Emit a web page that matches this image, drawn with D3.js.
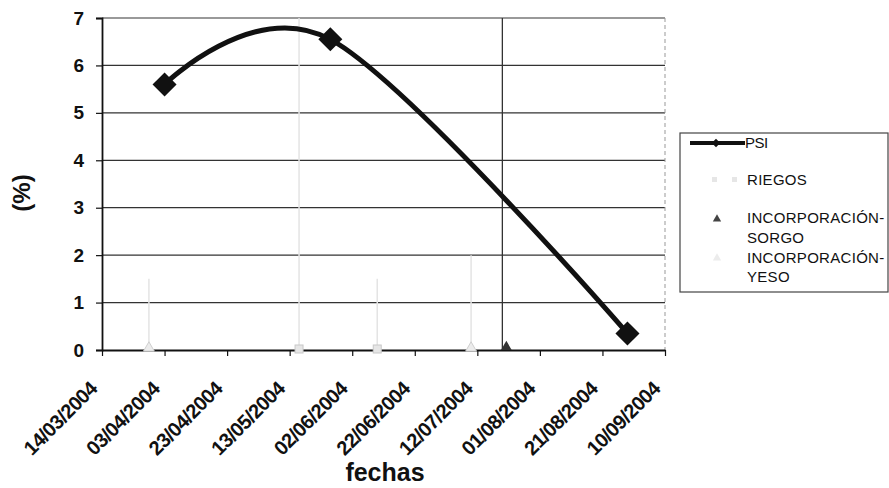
<!DOCTYPE html>
<html>
<head>
<meta charset="utf-8">
<script src="https://cdn.jsdelivr.net/npm/d3@7"></script>
<style>
  html, body { margin: 0; padding: 0; background: #fff; }
  svg { display: block; }
  text { font-family: "Liberation Sans", Arial, sans-serif; fill: #111; }
</style>
</head>
<body>
<svg id="chart" width="889" height="488"></svg>
<script>
// PSI (%) measured on three sampling dates
const psiDates = ["03/04/2004", "26/05/2004", "29/08/2004"];
const psiValues = [5.6, 6.55, 0.35];

// Management events, drawn on the zero line
const riegosDates = ["16/05/2004", "10/06/2004"];
const riegosValues = [0, 0];
const riegosBar = [7, 1.5];

const sorgoDates = ["20/07/2004"];
const sorgoValues = [0];
const sorgoBar = [7];

const yesoDates = ["29/03/2004", "10/07/2004"];
const yesoValues = [0, 0];
const yesoBar = [1.5, 2];

// Axis ticks
const xTickLabels = ["14/03/2004", "03/04/2004", "23/04/2004", "13/05/2004", "02/06/2004",
                     "22/06/2004", "12/07/2004", "01/08/2004", "21/08/2004", "10/09/2004"];
const yTickValues = [0, 1, 2, 3, 4, 5, 6, 7];

const legendLabels = [["PSI"], ["RIEGOS"], ["INCORPORACIÓN-", "SORGO"], ["INCORPORACIÓN-", "YESO"]];

const parse = d3.timeParse("%d/%m/%Y");
const svg = d3.select("#chart");

const plotLeft = 102, plotRight = 665, plotTop = 18, plotBottom = 350;

const x = d3.scaleTime()
  .domain([parse(xTickLabels[0]), parse(xTickLabels[xTickLabels.length - 1])])
  .range([plotLeft, plotRight]);
const y = d3.scaleLinear().domain([0, 7]).range([plotBottom, plotTop]);

// Horizontal gridlines
svg.append("g")
  .selectAll("line")
  .data(yTickValues.filter(v => v > 0))
  .join("line")
  .attr("x1", plotLeft).attr("x2", plotRight)
  .attr("y1", d => y(d)).attr("y2", d => y(d))
  .attr("stroke", d => d === 7 ? "#777" : "#333")
  .attr("stroke-width", 1.3);

// Right edge of plot area
svg.append("line")
  .attr("x1", plotRight).attr("x2", plotRight)
  .attr("y1", plotTop).attr("y2", plotBottom)
  .attr("stroke", "#999")
  .attr("stroke-width", 1)
  .attr("stroke-dasharray", "4,3");

// Vertical event bars
function eventBars(dates, heights, color, width) {
  svg.append("g")
    .selectAll("line")
    .data(dates.map((d, i) => ({ date: parse(d), h: heights[i] })))
    .join("line")
    .attr("x1", d => x(d.date)).attr("x2", d => x(d.date))
    .attr("y1", y(0)).attr("y2", d => y(d.h))
    .attr("stroke", color)
    .attr("stroke-width", width);
}
eventBars(riegosDates, riegosBar, "#e4e4e4", 1.5);
eventBars(yesoDates, yesoBar, "#e4e4e4", 1.5);
eventBars(sorgoDates, sorgoBar, "#333", 1.3);

// Y axis
const yAxis = svg.append("g")
  .attr("transform", `translate(${plotLeft},0)`)
  .call(d3.axisLeft(y).tickValues(yTickValues).tickFormat(d3.format("d")).tickSize(6).tickPadding(12));
yAxis.select(".domain").attr("stroke", "#111").attr("stroke-width", 1.8);
yAxis.selectAll(".tick line").attr("stroke", "#111").attr("stroke-width", 1.2);
yAxis.selectAll(".tick text")
  .attr("font-size", 19).attr("font-weight", "bold")
  .attr("font-family", "Liberation Sans, Arial, sans-serif")
  .attr("fill", "#111");

// X axis
const xAxis = svg.append("g")
  .attr("transform", `translate(0,${plotBottom})`)
  .call(d3.axisBottom(x).tickValues(xTickLabels.map(parse)).tickFormat(d3.timeFormat("%d/%m/%Y")).tickSize(6).tickSizeOuter(0));
xAxis.select(".domain").attr("stroke", "#111").attr("stroke-width", 1.8);
xAxis.selectAll(".tick line").attr("stroke", "#111").attr("stroke-width", 1.2);
xAxis.selectAll(".tick text")
  .attr("font-size", 20).attr("font-weight", "bold")
  .attr("letter-spacing", -0.6)
  .attr("font-family", "Liberation Sans, Arial, sans-serif")
  .attr("fill", "#111")
  .attr("text-anchor", "end")
  .attr("y", 0).attr("dy", 0)
  .attr("transform", "translate(-4,40) rotate(-45)");

// Axis titles
svg.append("text")
  .attr("x", 385).attr("y", 481)
  .attr("text-anchor", "middle")
  .attr("font-size", 25).attr("font-weight", "bold")
  .text("fechas");
svg.append("text")
  .attr("transform", "translate(30,193) rotate(-90)")
  .attr("text-anchor", "middle")
  .attr("font-size", 24).attr("font-weight", "bold")
  .text("(%)");

// PSI smoothed line
const psi = psiDates.map((d, i) => ({ date: parse(d), v: psiValues[i] }));
const line = d3.line()
  .x(d => x(d.date)).y(d => y(d.v))
  .curve(d3.curveCatmullRom.alpha(0));
svg.append("path")
  .datum(psi)
  .attr("d", line)
  .attr("fill", "none")
  .attr("stroke", "#111")
  .attr("stroke-width", 5)
  .attr("stroke-linecap", "round");

svg.append("g")
  .selectAll("rect")
  .data(psi)
  .join("rect")
  .attr("x", -8.5).attr("y", -8.5).attr("width", 17).attr("height", 17)
  .attr("transform", d => `translate(${x(d.date)},${y(d.v)}) rotate(45)`)
  .attr("fill", "#111");

// Event markers on the zero line
svg.append("g")
  .selectAll("rect")
  .data(riegosDates.map((d, i) => ({ date: parse(d), v: riegosValues[i] })))
  .join("rect")
  .attr("x", d => x(d.date) - 4).attr("y", d => y(d.v) - 5)
  .attr("width", 8).attr("height", 8)
  .attr("fill", "#e6e6e6").attr("stroke", "#c8c8c8");

const tri = d3.symbol().type(d3.symbolTriangle).size(50);
svg.append("g")
  .selectAll("path")
  .data(yesoDates.map((d, i) => ({ date: parse(d), v: yesoValues[i] })))
  .join("path")
  .attr("d", tri)
  .attr("transform", d => `translate(${x(d.date)},${y(d.v) - 2})`)
  .attr("fill", "#ececec").attr("stroke", "#cfcfcf");
svg.append("g")
  .selectAll("path")
  .data(sorgoDates.map((d, i) => ({ date: parse(d), v: sorgoValues[i] })))
  .join("path")
  .attr("d", tri)
  .attr("transform", d => `translate(${x(d.date) + 4},${y(d.v) - 3})`)
  .attr("fill", "#333");

// Legend
const lg = svg.append("g");
lg.append("rect")
  .attr("x", 680).attr("y", 133).attr("width", 208).attr("height", 159)
  .attr("fill", "#fff").attr("stroke", "#444").attr("stroke-width", 1.2);

lg.append("line")
  .attr("x1", 690).attr("x2", 745).attr("y1", 143).attr("y2", 143)
  .attr("stroke", "#111").attr("stroke-width", 4);
lg.append("rect")
  .attr("x", -3).attr("y", -3).attr("width", 6).attr("height", 6)
  .attr("transform", "translate(716,143) rotate(45)")
  .attr("fill", "#111");
lg.append("rect").attr("x", 712).attr("y", 177).attr("width", 5).attr("height", 5).attr("fill", "#e6e6e6");
lg.append("rect").attr("x", 732).attr("y", 177).attr("width", 5).attr("height", 5).attr("fill", "#e6e6e6");
lg.append("path").attr("d", d3.symbol().type(d3.symbolTriangle).size(30)).attr("transform", "translate(717,219)").attr("fill", "#444");
lg.append("path").attr("d", d3.symbol().type(d3.symbolTriangle).size(30)).attr("transform", "translate(717,258)").attr("fill", "#ececec");

const legendRows = [[143], [180], [218, 238], [258, 277]];
legendLabels.forEach((lines, i) => {
  lines.forEach((t, j) => {
    lg.append("text")
      .attr("x", i === 0 ? 745 : 747)
      .attr("y", legendRows[i][j])
      .attr("dy", "0.35em")
      .attr("font-size", 15)
      .attr("letter-spacing", i === 0 ? -0.5 : 0.3)
      .text(t);
  });
});
</script>
</body>
</html>
